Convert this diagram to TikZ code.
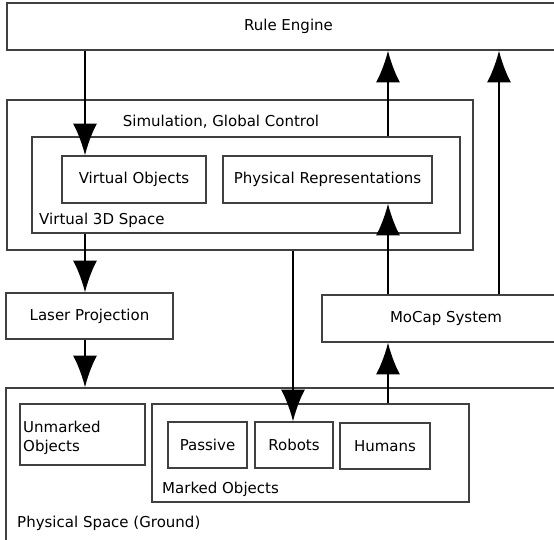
\documentclass[tikz,border=0pt]{standalone}
\usepackage{fontspec}
\setmainfont{DejaVu Sans}
\usetikzlibrary{arrows.meta, positioning, fit}

\begin{document}
\begin{tikzpicture}[x=0.03cm, y=-0.03cm, font=\fontsize{12.8}{16}\selectfont,
    box/.style={draw=black!75, line width=1.1pt, inner sep=0pt},
    flow/.style={line width=2pt, -{Latex[length=0.95cm, width=0.72cm]}}]
\useasboundingbox (0,0) rectangle (554,540);

% top level
\node[box, fit={(7,3) (570,50)}] (rule) {};
\node at (rule.center) {Rule Engine};

% simulation
\node[box, fit={(7,100) (473,250)}] (sim) {};
\node (simtxt) at (221,122) {Simulation, Global Control};
\node[box, fit={(32,137) (460,233)}] (vspace) {};
\node[anchor=base west, inner sep=0pt] (vspacetxt) at (39,225) {Virtual 3D Space};
\node[box, fit={(62,156) (206,203)}] (vobj) {};
\node at (vobj.center) {Virtual Objects};
\node[box, fit={(223,156) (432,203)}] (prep) {};
\node at (prep.center) {Physical Representations};

% middle
\node[box, fit={(6,293) (173,339)}] (laser) {};
\node at (laser.center) {Laser Projection};
\node[box, fit={(322,295) (570,342)}] (mocap) {};
\node at (mocap.center) {MoCap System};

% ground
\node[box, fit={(6,388) (570,560)}] (ground) {};
\node[anchor=base west, inner sep=0pt] (groundtxt) at (17,527) {Physical Space (Ground)};
\node[box, fit={(20,404) (145,465)}] (unmarked) {};
\node[anchor=base west, align=left, inner sep=0pt, font=\fontsize{12.8}{17}\selectfont] (unmarkedtxt) at (23,452) {Unmarked\\Objects};
\node[box, fit={(152,404) (469,502)}] (marked) {};
\node[anchor=base west, inner sep=0pt] (markedtxt) at (162,493) {Marked Objects};
\node[box, fit={(168,422) (247,468)}] (passive) {};
\node at (passive.center) {Passive};
\node[box, fit={(255,422) (333,468)}] (robots) {};
\node at (robots.center) {Robots};
\node[box, fit={(340,423) (430,469)}] (humans) {};
\node at (humans.center) {Humans};

% columns of the connectors
\coordinate (xa) at (85,0);
\coordinate (xb) at (293,0);
\coordinate (xc) at (388,0);
\coordinate (xd) at (499,0);

\draw[flow] (rule.south -| xa) -- (vobj.north -| xa);
\draw[flow] (vspace.north -| xc) -- (rule.south -| xc);
\draw[flow] (mocap.north -| xd) -- (rule.south -| xd);
\draw[flow] (vspace.south -| xa) -- (laser.north -| xa);
\draw[flow] (laser.south -| xa) -- (ground.north -| xa);
\draw[flow] (sim.south -| xb) -- (robots.north -| xb);
\draw[flow] (mocap.north -| xc) -- (prep.south -| xc);
\draw[flow] (marked.north -| xc) -- (mocap.south -| xc);
\end{tikzpicture}
\end{document}
